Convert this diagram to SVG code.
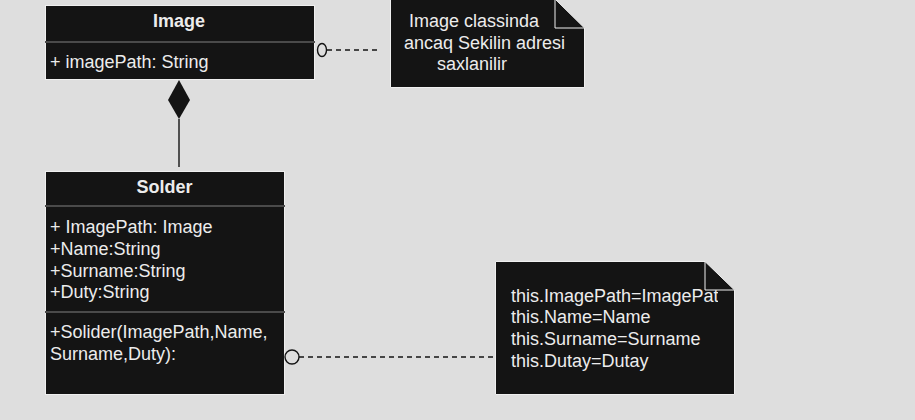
<svg xmlns="http://www.w3.org/2000/svg" width="915" height="420" viewBox="0 0 915 420">
<style>
.box{fill:#141414;stroke:#efefef;stroke-width:1}
.sep{stroke:#4a4a4a;stroke-width:2}
.t{font-family:"Liberation Sans",Arial,sans-serif;font-size:18px;fill:#ececec}
.b{font-weight:bold;text-anchor:middle}
.ln{stroke:#141414;stroke-width:1.4;fill:none}
.dash{stroke-dasharray:5 4}
</style>
<rect x="0" y="0" width="915" height="420" fill="#dedede"/>
<g id="image-class">
<rect class="box" x="45.5" y="5.5" width="269" height="74"/>
<line class="sep" x1="45" y1="42" x2="315" y2="42"/>
<text class="t b" x="179" y="27">Image</text>
<text class="t" x="50" y="68">+ imagePath: String</text>
</g>
<g id="note-image">
<polygon class="box" points="390.5,-1 555,-1 584.5,28 584.5,87.5 390.5,87.5"/>
<polyline points="555,-1 555,28 584.5,28" fill="none" stroke="#efefef" stroke-width="1"/>
<text class="t" x="409" y="27">Image classinda</text>
<text class="t" x="404" y="49">ancaq Sekilin adresi</text>
<text class="t" x="437" y="70">saxlanilir</text>
</g>
<g id="solder-class">
<rect class="box" x="45.5" y="171.5" width="239" height="223"/>
<line class="sep" x1="45" y1="206" x2="285" y2="206"/>
<line class="sep" x1="45" y1="312" x2="285" y2="312"/>
<text class="t b" x="164.5" y="193">Solder</text>
<text class="t" x="50" y="233">+ ImagePath: Image</text>
<text class="t" x="50" y="255">+Name:String</text>
<text class="t" x="50" y="277">+Surname:String</text>
<text class="t" x="50" y="298">+Duty:String</text>
<text class="t" x="50" y="338">+Solider(ImagePath,Name,</text>
<text class="t" x="50" y="360">Surname,Duty):</text>
</g>
<g id="note-constructor">
<clipPath id="nc"><rect x="495" y="261" width="223" height="134"/></clipPath>
<polygon class="box" points="495.5,261.5 705,261.5 734.5,290 734.5,394.5 495.5,394.5"/>
<polyline points="705,261.5 705,290 734.5,290" fill="none" stroke="#efefef" stroke-width="1"/>
<g clip-path="url(#nc)">
<text class="t" x="511" y="302">this.ImagePath=ImagePath</text>
</g>
<text class="t" x="511" y="323">this.Name=Name</text>
<text class="t" x="511" y="345">this.Surname=Surname</text>
<text class="t" x="511" y="367">this.Dutay=Dutay</text>
</g>
<g id="connectors">
<polygon points="179,80 190,100 179,119 168,100" fill="#141414"/>
<line class="ln" x1="179" y1="119" x2="179" y2="167"/>
<ellipse class="ln" cx="322" cy="50" rx="4.5" ry="6.5"/>
<line class="ln dash" x1="327" y1="50" x2="377" y2="50"/>
<circle class="ln" cx="292" cy="357" r="7"/>
<line class="ln dash" x1="299" y1="357" x2="494" y2="357"/>
</g>
</svg>
